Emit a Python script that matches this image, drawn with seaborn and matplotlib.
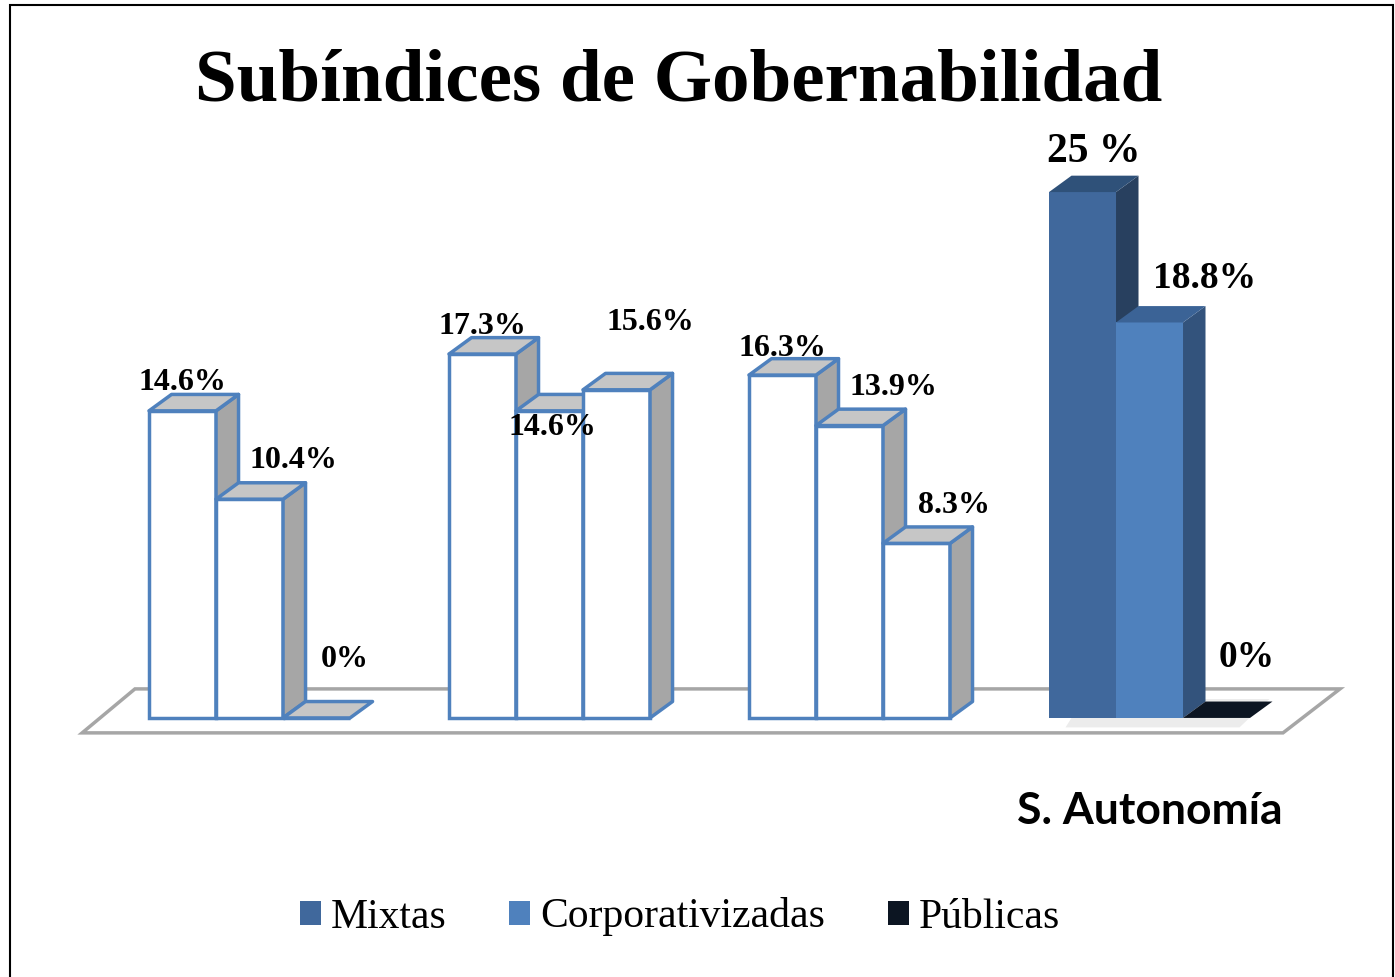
import numpy as np
import pandas as pd
import matplotlib
matplotlib.use("Agg")
import matplotlib.pyplot as plt
from matplotlib.patches import Polygon, Patch, Rectangle
import seaborn as sns

# data
grupos = ["Subíndice 1", "Subíndice 2", "Subíndice 3", "S. Autonomía"]
series = ["Mixtas", "Corporativizadas", "Públicas"]
mixtas = [14.6, 17.3, 16.3, 25.0]
corporativizadas = [10.4, 14.6, 13.9, 18.8]
publicas = [0.0, 15.6, 8.3, 0.0]
etiquetas = [["14.6%", "17.3%", "16.3%", "25 %"],
             ["10.4%", "14.6%", "13.9%", "18.8%"],
             ["0%", "15.6%", "8.3%", "0%"]]

df = pd.DataFrame({
    "grupo": grupos * 3,
    "serie": np.repeat(series, len(grupos)),
    "valor": mixtas + corporativizadas + publicas,
})

# label offsets in pixels (series x group), relative to the front top of each bar
label_dx = [[0, 0, 0, 11], [44, 3, 44, 55], [28, 34, 37, 30]]
label_dy = [[28, 28, 27, 40], [39, -17, 38, 44], [58, 67, 38, 60]]

sns.set_theme(style="white")
plt.rcParams["font.family"] = ["Liberation Serif", "DejaVu Serif"]
plt.rcParams["text.color"] = "black"
plt.rcParams["xtick.color"] = "black"

palette = {"Mixtas": "#40689c", "Corporativizadas": "#4f81bd", "Públicas": "#0c1522"}
tops = {"Mixtas": "#2f5179", "Corporativizadas": "#3b6396", "Públicas": "#0c1522"}
sides = {"Mixtas": "#28405f", "Corporativizadas": "#33537c", "Públicas": "#0c1522"}
blue_edge = "#4f81bd"

fig = plt.figure(figsize=(13.95, 9.77), dpi=100)
ax = fig.add_axes([0.0391, 0.2221, 0.9247, 0.6459])

sns.barplot(data=df, x="grupo", y="valor", hue="serie", hue_order=series,
            order=grupos, palette=palette, width=0.67, legend=False,
            saturation=1, ax=ax)

dx, dy = 0.075, 0.78

# floor
floor = Polygon([(-0.558, -0.71), (3.445, -0.71), (3.635, 1.38), (-0.382, 1.38)],
                closed=True, facecolor="white", edgecolor="#a6a6a6", lw=2.5, zorder=1)
ax.add_patch(floor)
ax.add_patch(Polygon([(2.72, -0.45), (3.3, -0.45), (3.4, 0.9), (2.78, 0.9)],
                     closed=True, facecolor="#ececec", edgecolor="none", zorder=1.5))

for k, (name, cont) in enumerate(zip(series, ax.containers)):
    for g, bar in enumerate(cont.patches):
        x0 = bar.get_x()
        x1 = x0 + bar.get_width()
        h = bar.get_height()
        z = 10 + 2 * k
        if g < 3:
            bar.set_facecolor("white")
            bar.set_edgecolor(blue_edge)
            bar.set_linewidth(2.5)
            top_c, side_c, ec, lw = "#c6c6c6", "#a6a6a6", blue_edge, 2.5
        else:
            bar.set_edgecolor("none")
            top_c, side_c, ec, lw = tops[name], sides[name], "none", 0
        bar.set_zorder(z)
        top = Polygon([(x0, h), (x1, h), (x1 + dx, h + dy), (x0 + dx, h + dy)],
                      closed=True, facecolor=top_c, edgecolor=ec, lw=lw,
                      zorder=z + 0.5, joinstyle="round")
        ax.add_patch(top)
        if h > 0:
            side = Polygon([(x1, 0), (x1 + dx, dy), (x1 + dx, h + dy), (x1, h)],
                           closed=True, facecolor=side_c, edgecolor=ec, lw=lw,
                           zorder=z + 0.4, joinstyle="round")
            ax.add_patch(side)
        fs = 23 if g < 3 else (30 if k == 0 else 27)
        ax.annotate(etiquetas[k][g], xy=(x0 + bar.get_width() / 2, h),
                    xytext=(label_dx[k][g], label_dy[k][g]),
                    textcoords="offset pixels", ha="center", va="center",
                    fontsize=fs, fontweight="bold", color="black", zorder=30)

ax.set_xlim(-0.65, 3.65)
ax.set_ylim(-2, 28)
ax.set_yticks([])
ax.set_xlabel("")
ax.set_ylabel("")
for s in ax.spines.values():
    s.set_visible(False)
ax.tick_params(axis="x", length=0, pad=22)
for i, lab in enumerate(ax.get_xticklabels()):
    lab.set_fontfamily(["Lato", "DejaVu Sans"])
    lab.set_fontweight("bold")
    lab.set_fontsize(32)
    lab.set_color("black")
    lab.set_visible(i == 3)

fig.text(679 / 1395, 1 - 100 / 977, "Subíndices de Gobernabilidad",
         ha="center", va="baseline", fontsize=54, fontweight="bold", color="black")

handles = [Patch(facecolor=palette[s], edgecolor="none") for s in series]
fig.legend(handles, series, loc="center", bbox_to_anchor=(680 / 1395, 1 - 917 / 977),
           ncol=3, frameon=False, fontsize=30, handlelength=0.5, handleheight=0.5,
           handletextpad=0.25, columnspacing=1.5, labelcolor="black")

fig.add_artist(Rectangle((10 / 1395, -0.02), 1383 / 1395, 1.02 - 5 / 977,
                         transform=fig.transFigure, fill=False,
                         edgecolor="black", lw=1.5))

fig.savefig("out.png", dpi=100)
